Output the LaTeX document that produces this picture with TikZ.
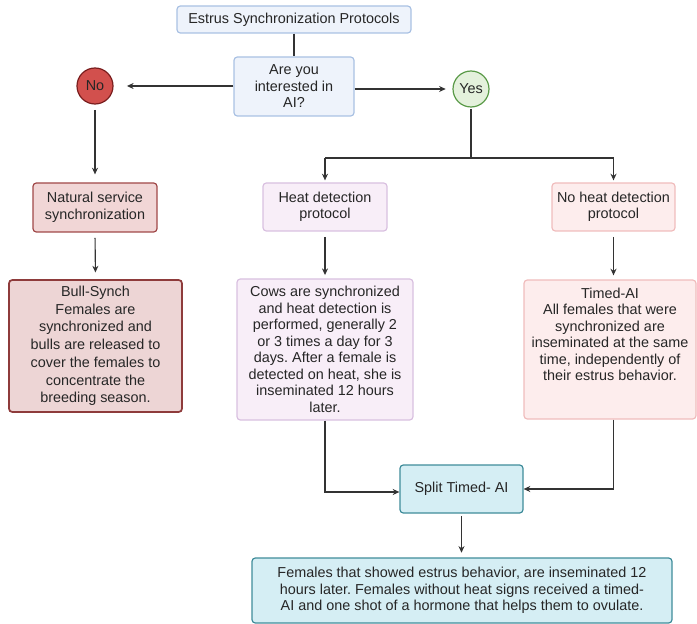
\documentclass[tikz,border=0pt]{standalone}
\usepackage{fontspec}
\setmainfont{Liberation Sans}
\usetikzlibrary{arrows.meta}
\definecolor{titlefill}{HTML}{EEF3FB}
\definecolor{titledraw}{HTML}{A9C1E3}
\definecolor{nofill}{HTML}{D2504D}
\definecolor{nodraw}{HTML}{7A1E1E}
\definecolor{yesfill}{HTML}{E4F1DC}
\definecolor{yesdraw}{HTML}{5A9A48}
\definecolor{natfill}{HTML}{F1D6D6}
\definecolor{natdraw}{HTML}{A04848}
\definecolor{bullfill}{HTML}{EDD5D5}
\definecolor{bulldraw}{HTML}{8E3B3B}
\definecolor{heatfill}{HTML}{F8EEF8}
\definecolor{heatdraw}{HTML}{D9C0E0}
\definecolor{noheatfill}{HTML}{FDEDED}
\definecolor{noheatdraw}{HTML}{F0BDBD}
\definecolor{splitfill}{HTML}{D5EEF4}
\definecolor{splitdraw}{HTML}{3F8C9A}
\definecolor{linecol}{HTML}{333333}
\frenchspacing
\tikzset{
  box/.style={rectangle, rounded corners=2.5pt, line width=0.9pt, align=center,
    inner sep=2pt, font=\fontsize{10.8}{12.4}\selectfont, text=black!85},
  circ/.style={circle, line width=0.9pt, inner sep=0pt, minimum size=27pt,
    font=\fontsize{10.8}{12}\selectfont, text=black!85},
  conn/.style={draw=linecol, line width=0.85pt, -{Stealth[length=5pt,width=4.5pt]}},
  plain/.style={draw=linecol, line width=0.85pt},
}
\begin{document}
\begin{tikzpicture}[x=0.75pt, y=-0.75pt]
\useasboundingbox (0,0) rectangle (697,624);
\node[box, fill=titlefill, draw=titledraw, minimum width=175.5pt, minimum height=20.25pt] (title) at (294,19.5) {Estrus Synchronization Protocols};
\node[box, fill=titlefill, draw=titledraw, minimum width=90pt, minimum height=44.25pt] (ai) at (294,86.5) {Are you\\interested in\\AI?};
\node[circ, fill=nofill, draw=nodraw] (no) at (95,86) {No};
\node[circ, fill=yesfill, draw=yesdraw] (yes) at (471,89) {Yes};
\node[box, fill=natfill, draw=natdraw, minimum width=93pt, minimum height=36.75pt] (nat) at (95,207.5) {Natural service\\synchronization};
\node[box, fill=bullfill, draw=bulldraw, line width=1.3pt, minimum width=129.75pt, minimum height=99pt, font=\fontsize{10.8}{13.3}\selectfont] (bull) at (95.5,346) {Bull-Synch\\Females are\\synchronized and\\bulls are released to\\cover the females to\\concentrate the\\breeding season.};
\node[box, fill=heatfill, draw=heatdraw, minimum width=93pt, minimum height=36pt] (heat) at (325,207) {Heat detection\\protocol};
\node[box, fill=heatfill, draw=heatdraw, minimum width=132pt, minimum height=105.75pt] (heattext) at (325,349.5) {Cows are synchronized\\and heat detection is\\performed, generally 2\\or 3 times a day for 3\\days. After a female is\\detected on heat, she is\\inseminated 12 hours\\later.};
\node[box, fill=noheatfill, draw=noheatdraw, minimum width=92.25pt, minimum height=36pt] (noheat) at (613.5,207) {No heat detection\\protocol};
\node[box, fill=noheatfill, draw=noheatdraw, minimum width=129pt, minimum height=104.25pt] (timed) at (610,349.5) {Timed-AI\\All females that were\\synchronized are\\inseminated at the same\\time, independently of\\their estrus behavior.\\[10.5pt]~};
\node[box, fill=splitfill, draw=splitdraw, minimum width=92.25pt, minimum height=36pt] (split) at (461.5,489) {Split Timed- AI};
\node[box, fill=splitfill, draw=splitdraw, minimum width=315pt, minimum height=48.75pt] (final) at (462,590.5) {Females that showed estrus behavior, are inseminated 12\\hours later. Females without heat signs received a timed-\\AI and one shot of a hormone that helps them to ovulate.};
\coordinate (fork) at (471,158);
\coordinate (forkL) at (325,158);
\coordinate (forkR) at (613.5,158);
\coordinate (joinL) at (325,492);
\coordinate (joinR) at (613.5,489);
\draw[plain] (title.south) -- (ai.north);
\draw[conn, shorten >=10pt] (ai.west |- no) -- (no.east);
\draw[conn, shorten >=5pt] (ai.east |- yes) -- (yes.west);
\draw[plain, shorten <=1pt] (yes.south) -- (fork);
\draw[plain] (forkL) -- (forkR);
\draw[conn, shorten >=1.5pt] (forkL) -- (heat.north);
\draw[conn, shorten >=1.5pt] (forkR) -- (noheat.north);
\draw[conn, shorten <=4pt, shorten >=6pt] (no.south) -- (nat.north);
\draw[conn, shorten <=4pt, shorten >=5pt] (nat.south) -- (bull.north);
\draw[conn, shorten <=4pt, shorten >=2.5pt] (heat.south) -- (heattext.north);
\draw[conn, shorten <=4pt, shorten >=3pt] (noheat.south) -- (noheat.south |- timed.north);
\draw[conn] (heattext.south) -- (joinL) -- (split.west |- joinL);
\draw[conn] (noheat.south |- timed.south) -- (joinR) -- (split.east);
\draw[conn, shorten <=2pt, shorten >=3.5pt] (split.south) -- (split.south |- final.north);
\end{tikzpicture}
\end{document}
